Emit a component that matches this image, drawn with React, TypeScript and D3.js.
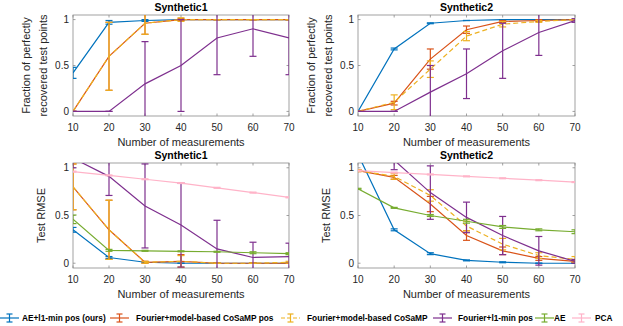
import React, { useEffect, useRef } from "react";
import * as d3 from "d3";

const measurements = [10, 20, 30, 40, 50, 60, 70];
const xTicks = [10, 20, 30, 40, 50, 60, 70];
const yTicks = [0, 0.5, 1];
const yTickLabels = ["0", "0.5", "1"];

const seriesNames = [
  "AE+l1-min pos (ours)",
  "Fourier+model-based CoSaMP pos",
  "Fourier+model-based CoSaMP",
  "Fourier+l1-min pos",
  "AE",
  "PCA",
];
const seriesColors = ["#0072BD", "#D95319", "#EDB120", "#7E2F8E", "#77AC30", "#FFB3C8"];

// Synthetic1 - fraction recovered
const s1FracAE = [0.42, 0.97, 0.99, 1, 1, 1, 1];
const s1FracAEErr = [0.06, 0.02, 0.01, 0, 0, 0, 0];
const s1FracCoPos = [0, 0.6, 0.96, 1, 1, 1, 1];
const s1FracCoPosErr = [0, 0.37, 0.12, 0.01, 0, 0, 0];
const s1FracCo = [0, 0.6, 0.96, 1, 1, 1, 1];
const s1FracCoErr = [0, 0.37, 0.12, 0.02, 0, 0, 0];
const s1FracL1 = [0, 0, 0.3, 0.5, 0.8, 0.9, 0.8];
const s1FracL1Err = [0, 0, 0.46, 0.5, 0.4, 0.3, 0.4];

// Synthetic2 - fraction recovered
const s2FracAE = [0, 0.68, 0.96, 0.99, 1, 1, 1];
const s2FracAEErr = [0, 0.01, 0.005, 0, 0, 0, 0];
const s2FracCoPos = [0, 0.09, 0.57, 0.89, 0.98, 0.99, 1];
const s2FracCoPosErr = [0, 0.02, 0.11, 0.04, 0.01, 0.01, 0];
const s2FracCo = [0, 0.1, 0.46, 0.82, 0.95, 0.98, 1];
const s2FracCoErr = [0, 0.08, 0.09, 0.05, 0.03, 0.01, 0];
const s2FracL1 = [0, 0, 0.21, 0.41, 0.66, 0.86, 0.99];
const s2FracL1Err = [0, 0, 0.29, 0.27, 0.3, 0.25, 0.02];

// Synthetic1 - test RMSE
const s1RmseAE = [0.35, 0.06, 0.01, 0, 0, 0, 0];
const s1RmseAEErr = [0.025, 0.01, 0.005, 0, 0, 0, 0];
const s1RmseCoPos = [0.8, 0.35, 0.01, 0.02, 0, 0, 0];
const s1RmseCoPosErr = [0.24, 0.31, 0.01, 0.07, 0, 0, 0];
const s1RmseCo = [0.8, 0.35, 0.01, 0.02, 0, 0, 0.01];
const s1RmseCoErr = [0.24, 0.31, 0.01, 0.06, 0, 0, 0.01];
const s1RmseL1 = [1.1, 0.91, 0.6, 0.4, 0.15, 0.06, 0.07];
const s1RmseL1Err = [0.1, 0.2, 0.44, 0.44, 0.3, 0.16, 0.14];
const s1RmseNet = [0.46, 0.135, 0.13, 0.125, 0.12, 0.11, 0.1];
const s1RmseNetErr = [0.045, 0.01, 0.005, 0.005, 0.005, 0.01, 0.01];
const s1RmsePCA = [0.96, 0.92, 0.88, 0.84, 0.79, 0.74, 0.69];
const s1RmsePCAErr = [0.005, 0.005, 0.005, 0.005, 0.005, 0.005, 0.005];

// Synthetic2 - test RMSE
const s2RmseAE = [1.14, 0.35, 0.1, 0.03, 0.01, 0, 0];
const s2RmseAEErr = [0.01, 0.01, 0.01, 0.005, 0.005, 0, 0];
const s2RmseCoPos = [0.97, 0.9, 0.62, 0.29, 0.13, 0.05, 0.02];
const s2RmseCoPosErr = [0.01, 0.02, 0.08, 0.05, 0.04, 0.02, 0.01];
const s2RmseCo = [0.97, 0.91, 0.71, 0.39, 0.2, 0.08, 0.04];
const s2RmseCoErr = [0.01, 0.03, 0.06, 0.05, 0.06, 0.03, 0.03];
const s2RmseL1 = [1.4, 1.08, 0.74, 0.48, 0.29, 0.13, 0.02];
const s2RmseL1Err = [0.1, 0.1, 0.28, 0.16, 0.2, 0.15, 0.02];
const s2RmseNet = [0.78, 0.58, 0.5, 0.44, 0.38, 0.35, 0.33];
const s2RmseNetErr = [0.005, 0.005, 0.01, 0.02, 0.015, 0.01, 0.02];
const s2RmsePCA = [0.97, 0.95, 0.93, 0.91, 0.89, 0.87, 0.85];
const s2RmsePCAErr = [0.005, 0.005, 0.005, 0.005, 0.005, 0.005, 0.005];

const FONT = "'Liberation Sans', Arial, sans-serif";

type Series = { idx: number; values: number[]; err: number[] };

function drawPanel(
  g: d3.Selection<SVGGElement, unknown, null, undefined>,
  id: string,
  box: { x: number; y: number; w: number; h: number },
  title: string,
  yLabel: string[],
  series: Series[]
) {
  const x = d3.scaleLinear().domain([10, 70]).range([box.x, box.x + box.w]);
  const y = d3.scaleLinear().domain([-0.05, 1.05]).range([box.y + box.h, box.y]);

  g.append("clipPath")
    .attr("id", id)
    .append("rect")
    .attr("x", box.x)
    .attr("y", box.y)
    .attr("width", box.w)
    .attr("height", box.h);

  // box
  g.append("rect")
    .attr("x", box.x)
    .attr("y", box.y)
    .attr("width", box.w)
    .attr("height", box.h)
    .attr("fill", "white")
    .attr("stroke", "#8a8a8a")
    .attr("stroke-width", 0.8);

  // ticks inside
  const ticks = g.append("g").attr("stroke", "#8a8a8a").attr("stroke-width", 0.8);
  xTicks.forEach((t) => {
    ticks.append("line").attr("x1", x(t)).attr("x2", x(t)).attr("y1", box.y + box.h).attr("y2", box.y + box.h - 2.5);
    ticks.append("line").attr("x1", x(t)).attr("x2", x(t)).attr("y1", box.y).attr("y2", box.y + 2.5);
  });
  yTicks.forEach((t) => {
    ticks.append("line").attr("x1", box.x).attr("x2", box.x + 2.5).attr("y1", y(t)).attr("y2", y(t));
    ticks.append("line").attr("x1", box.x + box.w).attr("x2", box.x + box.w - 2.5).attr("y1", y(t)).attr("y2", y(t));
  });

  g.selectAll(null)
    .data(xTicks)
    .enter()
    .append("text")
    .attr("x", (d) => x(d))
    .attr("y", box.y + box.h + 15)
    .attr("text-anchor", "middle")
    .attr("font-size", 10)
    .attr("fill", "#262626")
    .text((d) => d);

  g.selectAll(null)
    .data(yTicks)
    .enter()
    .append("text")
    .attr("x", box.x - 4)
    .attr("y", (d) => y(d) + 3.5)
    .attr("text-anchor", "end")
    .attr("font-size", 10)
    .attr("fill", "#262626")
    .text((d, i) => yTickLabels[i]);

  g.append("text")
    .attr("x", box.x + box.w / 2)
    .attr("y", box.y - 4)
    .attr("text-anchor", "middle")
    .attr("font-size", 10.5)
    .attr("font-weight", "bold")
    .attr("fill", "#000")
    .text(title);

  g.append("text")
    .attr("x", box.x + box.w / 2)
    .attr("y", box.y + box.h + 30)
    .attr("text-anchor", "middle")
    .attr("font-size", 11)
    .attr("fill", "#262626")
    .text("Number of measurements");

  const cy = box.y + box.h / 2;
  yLabel.forEach((l, i) => {
    const lx = box.x - 43 + (yLabel.length === 1 ? 15 : i * 16.5);
    g.append("text")
      .attr("transform", `translate(${lx},${cy}) rotate(-90)`)
      .attr("text-anchor", "middle")
      .attr("font-size", 11)
      .attr("fill", "#262626")
      .text(l);
  });

  const plot = g.append("g").attr("clip-path", `url(#${id})`);
  const line = d3
    .line<number>()
    .x((d, i) => x(measurements[i]))
    .y((d) => y(d));

  series.forEach((s) => {
    const color = seriesColors[s.idx];
    const sg = plot.append("g").attr("stroke", color).attr("fill", "none").attr("stroke-width", 1.2);
    sg.append("path")
      .attr("d", line(s.values))
      .attr("stroke-dasharray", s.idx === 2 ? "5,3" : null);
    s.values.forEach((v, i) => {
      const e = s.err[i];
      const cx = x(measurements[i]);
      sg.append("line").attr("x1", cx).attr("x2", cx).attr("y1", y(v - e)).attr("y2", y(v + e));
      sg.append("line").attr("x1", cx - 3.5).attr("x2", cx + 3.5).attr("y1", y(v - e)).attr("y2", y(v - e));
      sg.append("line").attr("x1", cx - 3.5).attr("x2", cx + 3.5).attr("y1", y(v + e)).attr("y2", y(v + e));
    });
  });
}

const legendIconX = [0, 110, 281, 433, 535, 572];
const legendTextX = [22, 136, 307, 458, 554, 595];

export default function App() {
  const ref = useRef<SVGSVGElement>(null);

  useEffect(() => {
    const svg = d3.select(ref.current);
    svg.selectAll("*").remove();
    const root = svg.append("g").attr("font-family", FONT);

    const fracLabel = ["Fraction of perfectly", "recovered test points"];
    const rmseLabel = ["Test RMSE"];

    drawPanel(root.append("g"), "c1", { x: 73, y: 15, w: 216, h: 101 }, "Synthetic1", fracLabel, [
      { idx: 0, values: s1FracAE, err: s1FracAEErr },
      { idx: 1, values: s1FracCoPos, err: s1FracCoPosErr },
      { idx: 2, values: s1FracCo, err: s1FracCoErr },
      { idx: 3, values: s1FracL1, err: s1FracL1Err },
    ]);
    drawPanel(root.append("g"), "c2", { x: 358, y: 15, w: 217, h: 101 }, "Synthetic2", fracLabel, [
      { idx: 0, values: s2FracAE, err: s2FracAEErr },
      { idx: 1, values: s2FracCoPos, err: s2FracCoPosErr },
      { idx: 2, values: s2FracCo, err: s2FracCoErr },
      { idx: 3, values: s2FracL1, err: s2FracL1Err },
    ]);
    drawPanel(root.append("g"), "c3", { x: 73, y: 163, w: 216, h: 105 }, "Synthetic1", rmseLabel, [
      { idx: 0, values: s1RmseAE, err: s1RmseAEErr },
      { idx: 1, values: s1RmseCoPos, err: s1RmseCoPosErr },
      { idx: 2, values: s1RmseCo, err: s1RmseCoErr },
      { idx: 3, values: s1RmseL1, err: s1RmseL1Err },
      { idx: 4, values: s1RmseNet, err: s1RmseNetErr },
      { idx: 5, values: s1RmsePCA, err: s1RmsePCAErr },
    ]);
    drawPanel(root.append("g"), "c4", { x: 358, y: 163, w: 217, h: 105 }, "Synthetic2", rmseLabel, [
      { idx: 0, values: s2RmseAE, err: s2RmseAEErr },
      { idx: 1, values: s2RmseCoPos, err: s2RmseCoPosErr },
      { idx: 2, values: s2RmseCo, err: s2RmseCoErr },
      { idx: 3, values: s2RmseL1, err: s2RmseL1Err },
      { idx: 4, values: s2RmseNet, err: s2RmseNetErr },
      { idx: 5, values: s2RmsePCA, err: s2RmsePCAErr },
    ]);

    // legend
    const ly = 318;
    const legend = root.append("g");
    seriesNames.forEach((name, i) => {
      const c = seriesColors[i];
      const x0 = legendIconX[i];
      const item = legend.append("g").attr("stroke", c).attr("stroke-width", 1.2);
      item.append("line").attr("x1", x0).attr("x2", x0 + 19).attr("y1", ly).attr("y2", ly)
        .attr("stroke-dasharray", i === 2 ? "4,2" : null);
      const mx = x0 + 9.5;
      item.append("line").attr("x1", mx).attr("x2", mx).attr("y1", ly - 4).attr("y2", ly + 4);
      item.append("line").attr("x1", mx - 3).attr("x2", mx + 3).attr("y1", ly - 4).attr("y2", ly - 4);
      item.append("line").attr("x1", mx - 3).attr("x2", mx + 3).attr("y1", ly + 4).attr("y2", ly + 4);
      legend.append("text")
        .attr("x", legendTextX[i])
        .attr("y", ly + 3)
        .attr("font-size", 8.3)
        .attr("font-weight", "bold")
        .attr("fill", "#000")
        .text(name);
    });
  }, []);

  return (
    <svg
      ref={ref}
      width={623}
      height={326}
      style={{ position: "absolute", left: 0, top: 0, background: "white" }}
    />
  );
}
